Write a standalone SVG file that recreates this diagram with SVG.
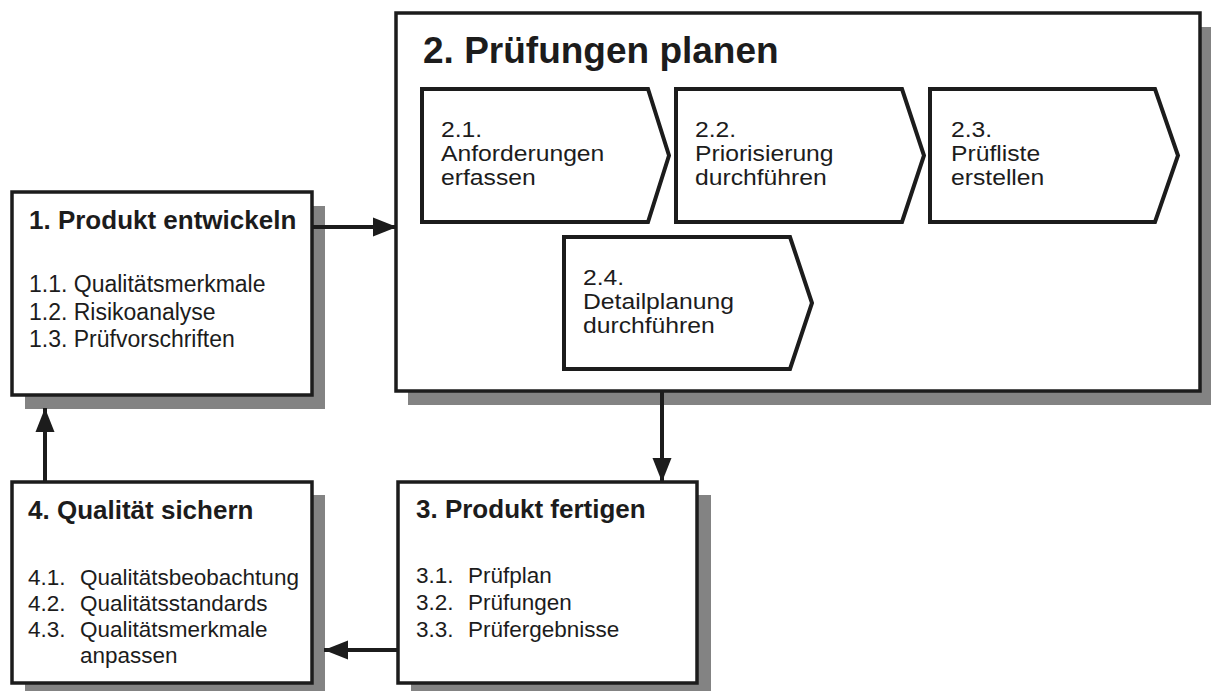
<svg xmlns="http://www.w3.org/2000/svg" width="1214" height="691" viewBox="0 0 1214 691">
<defs>
<style>
.bg{fill:#ffffff}
.shadow{fill:#838383}
.box{fill:#ffffff;stroke:#1c1c1c;stroke-width:3.5}
.chev{fill:#ffffff;stroke:#1c1c1c;stroke-width:4;stroke-linejoin:miter}
.title{font-family:"Liberation Sans",Arial,sans-serif;font-weight:bold;font-size:26px;fill:#1c1c1c}
.big{font-family:"Liberation Sans",Arial,sans-serif;font-weight:bold;font-size:37px;fill:#1c1c1c}
.item{font-family:"Liberation Sans",Arial,sans-serif;font-size:22.5px;fill:#1c1c1c}
.ctext{font-family:"Liberation Sans",Arial,sans-serif;font-size:21.3px;fill:#1c1c1c}
.conn{stroke:#1c1c1c;stroke-width:4;fill:none}
</style>
<marker id="arr" markerUnits="userSpaceOnUse" markerWidth="24" markerHeight="20" refX="24" refY="10" orient="auto">
<path d="M0,0.5 L24,10 L0,19.5 z" fill="#1c1c1c"/>
</marker>
</defs>
<rect class="bg" x="0" y="0" width="1214" height="691"/>

<g id="node1">
<rect class="shadow" x="25" y="206" width="300" height="203"/>
<rect class="box" x="12" y="192" width="300" height="203"/>
<text class="title" x="29" y="229">1. Produkt entwickeln</text>
<text class="item" style="font-size:23px"><tspan x="29" y="292">1.1. Qualitätsmerkmale</tspan><tspan x="29" y="319.5">1.2. Risikoanalyse</tspan><tspan x="29" y="347">1.3. Prüfvorschriften</tspan></text>
</g>

<g id="node2">
<rect class="shadow" x="408" y="27" width="803" height="378"/>
<rect class="box" x="396" y="13" width="804" height="378"/>
<text class="big" x="423" y="63">2. Prüfungen planen</text>
</g>

<g id="node2-1">
<polygon class="chev" points="422,89 648,89 669,155.5 648,222 422,222"/>
<text class="ctext" transform="translate(441,0) scale(1.16,1)"><tspan x="0" y="137">2.1.</tspan><tspan x="0" y="161">Anforderungen</tspan><tspan x="0" y="185">erfassen</tspan></text>
</g>

<g id="node2-2">
<polygon class="chev" points="676,89 902,89 924,155.5 902,222 676,222"/>
<text class="ctext" transform="translate(695,0) scale(1.16,1)"><tspan x="0" y="137">2.2.</tspan><tspan x="0" y="161">Priorisierung</tspan><tspan x="0" y="185">durchführen</tspan></text>
</g>

<g id="node2-3">
<polygon class="chev" points="930,89 1155,89 1178,155.5 1155,222 930,222"/>
<text class="ctext" transform="translate(951,0) scale(1.16,1)"><tspan x="0" y="137">2.3.</tspan><tspan x="0" y="161">Prüfliste</tspan><tspan x="0" y="185">erstellen</tspan></text>
</g>

<g id="node2-4">
<polygon class="chev" points="564,237 790,237 812,303 790,369 564,369"/>
<text class="ctext" transform="translate(583,0) scale(1.16,1)"><tspan x="0" y="285">2.4.</tspan><tspan x="0" y="309">Detailplanung</tspan><tspan x="0" y="333">durchführen</tspan></text>
</g>

<g id="node3">
<rect class="shadow" x="411" y="495" width="300" height="201"/>
<rect class="box" x="398" y="482" width="299" height="201"/>
<text class="title" x="416" y="518">3. Produkt fertigen</text>
<text class="item"><tspan x="416" y="583">3.1.</tspan><tspan x="468" y="583">Prüfplan</tspan><tspan x="416" y="610">3.2.</tspan><tspan x="468" y="610">Prüfungen</tspan><tspan x="416" y="637">3.3.</tspan><tspan x="468" y="637">Prüfergebnisse</tspan></text>
</g>

<g id="node4">
<rect class="shadow" x="25" y="495" width="300" height="201"/>
<rect class="box" x="12" y="482" width="300" height="201"/>
<text class="title" x="28" y="519">4. Qualität sichern</text>
<text class="item"><tspan x="28" y="585">4.1.</tspan><tspan x="80" y="585">Qualitätsbeobachtung</tspan><tspan x="28" y="611">4.2.</tspan><tspan x="80" y="611">Qualitätsstandards</tspan><tspan x="28" y="637">4.3.</tspan><tspan x="80" y="637">Qualitätsmerkmale</tspan><tspan x="80" y="663">anpassen</tspan></text>
</g>

<g id="connectors">
<line class="conn" x1="312" y1="227" x2="397" y2="227" marker-end="url(#arr)"/>
<line class="conn" x1="662" y1="391" x2="662" y2="482" marker-end="url(#arr)"/>
<line class="conn" x1="398" y1="650" x2="324" y2="650" marker-end="url(#arr)"/>
<line class="conn" x1="45" y1="482" x2="45" y2="408" marker-end="url(#arr)"/>
</g>
</svg>
